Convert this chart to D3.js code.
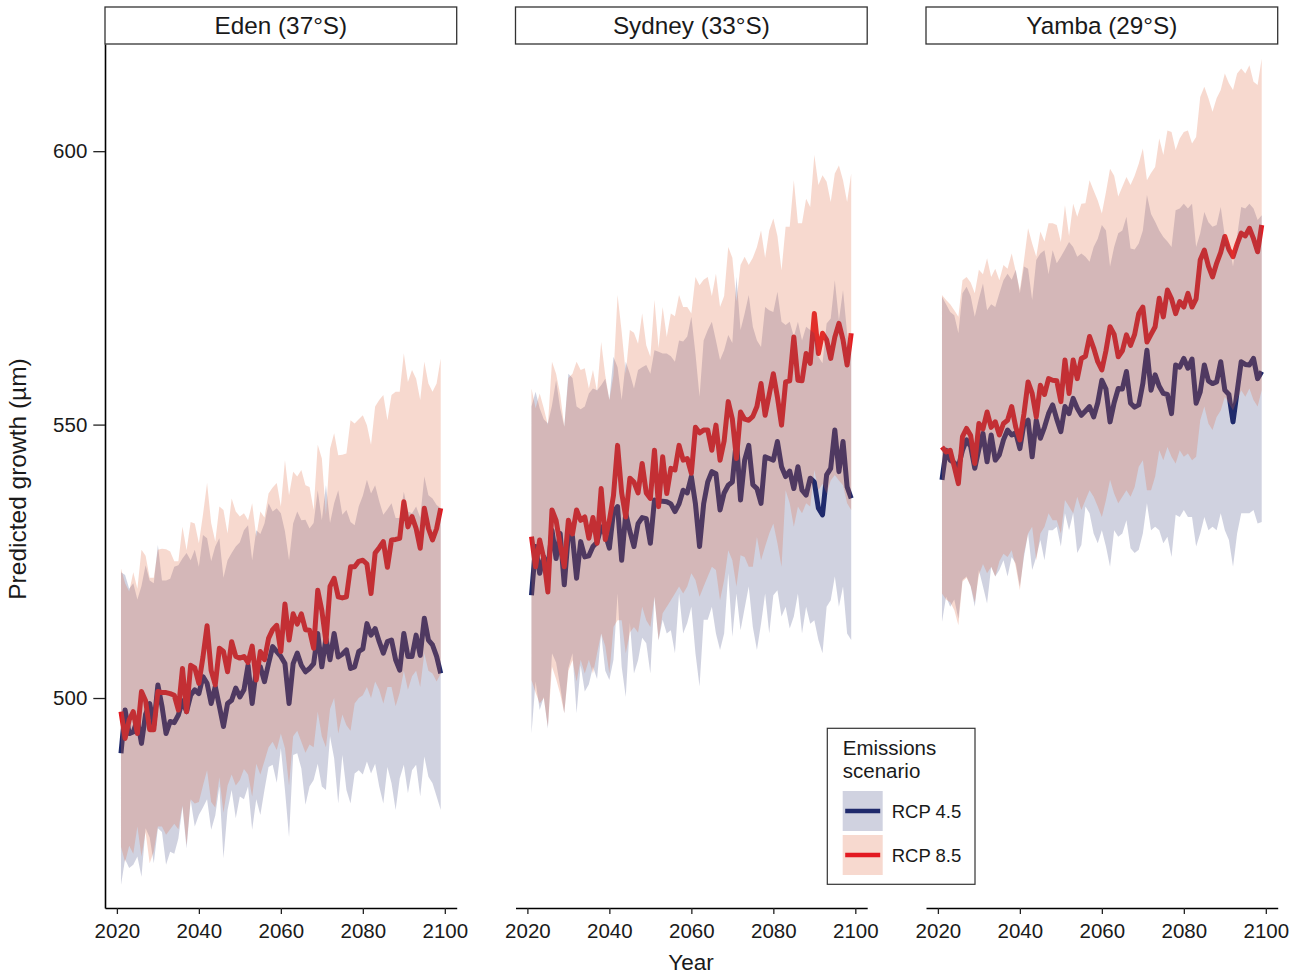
<!DOCTYPE html>
<html>
<head>
<meta charset="utf-8">
<script src="https://cdn.jsdelivr.net/npm/d3@7"></script>
<style>
    body { margin: 0; background: #fff; }
    svg text { font-family: "Liberation Sans", Arial, Helvetica, sans-serif; fill: #1a1a1a; }
</style>
</head>
<body>
<svg id="chart" width="1301" height="974"></svg>
<script>
const years = d3.range(2021, 2100);
const panels = ["Eden (37°S)", "Sydney (33°S)", "Yamba (29°S)"];
const scenarios = ["RCP 4.5", "RCP 8.5"];
const xTicks = [2020, 2040, 2060, 2080, 2100];
const yTicks = [500, 550, 600];

/* Eden */
const edenMid45 = [489.9, 497.8, 493.5, 493.8, 496, 491.7, 497, 499, 495, 502.4,
    498.5, 493.5, 495.7, 495.5, 496.9, 499.5, 497.5, 500.5, 501.5, 500.8,
    503.9, 502.7, 499, 502.1, 498.5, 494.8, 499, 499.6, 501.8, 500.2,
    501.5, 506, 499, 505.1, 505.7, 503, 506.3, 509.4, 508.5, 507.6,
    506.3, 499, 506.3, 508.2, 506, 504.8, 505.4, 506.3, 511.8, 505.7,
    510.9, 507, 511.8, 507.5, 508, 508.8, 505.4, 505.7, 508.5, 509,
    513.6, 511.5, 512.7, 510.3, 508.2, 510.3, 510.6, 507, 505.1, 511.8,
    507.6, 507.6, 511.5, 507.8, 514.6, 510.6, 509.7, 507.6, 504.5];
const edenLow45 = [465.8, 470.5, 468.9, 469.5, 471, 467.3, 476.2, 474.5, 469.8, 476.2,
    475.5, 469.5, 471.9, 471.5, 474.3, 480.1, 472.5, 481.3, 476.5, 478.6,
    480, 481.5, 475.9, 478.5, 483.8, 470.7, 479.5, 483.2, 478, 482,
    481.5, 483.8, 475.9, 481.5, 478.6, 483.2, 487.4, 487.8, 484.5, 490.8,
    483.2, 474.6, 489.6, 489.9, 487.1, 480.5, 483.8, 485, 488, 483.8,
    483.2, 493, 489, 480.7, 489.6, 483.2, 480.7, 486.2, 486.8, 486,
    488.4, 486.2, 488, 483.8, 480.7, 487.4, 484.4, 479.5, 485.3, 487.8,
    482.6, 486.8, 487.8, 482, 489.3, 485.6, 484.4, 482, 479.5];
const edenHigh45 = [523, 522.5, 520, 521, 518, 520.5, 524.3, 521.5, 521, 528,
    521.5, 521.5, 521.8, 524, 524.3, 525.5, 526.5, 525.2, 527.1, 524,
    529.8, 529.2, 525, 527.7, 529.2, 522, 525.2, 526.5, 527.7, 528.5,
    530.7, 531.6, 525.2, 530.7, 530, 531.9, 535.6, 534.1, 534.7, 533.8,
    530.5, 525.2, 531.9, 534.1, 532.5, 532.6, 531, 532, 538, 532.5,
    538.9, 532, 535.6, 538, 533.5, 534.4, 532.2, 531.6, 535, 537,
    539.9, 537.4, 538.9, 536, 533.5, 534.5, 535.6, 532.9, 532.9, 537.7,
    534.1, 533.8, 535, 533, 540.5, 537.1, 536.5, 535.3, 534.7];
const edenMid85 = [497.5, 492.6, 496, 497.5, 493.5, 501.2, 499.5, 494.2, 494.2, 501.2,
    501, 501, 500.8, 500.5, 497.8, 505.4, 497.5, 506, 505.5, 502.7,
    507.5, 513.2, 505, 502.4, 509.1, 508.5, 504.8, 510.3, 507.6, 507.3,
    507.6, 506.5, 509.5, 503.3, 508.5, 507, 510.9, 512.5, 513.3, 508.5,
    517.2, 510.6, 515.4, 513.5, 515.4, 512.5, 512.4, 509.1, 519.7, 516,
    510.3, 520.4, 521.9, 518.5, 518.3, 518.5, 524, 524, 525, 525.2,
    524.5, 519.1, 526.5, 527.5, 528.6, 523.9, 528.9, 529, 529.2, 535.9,
    531.3, 533.2, 531, 527.4, 534.7, 531, 528.9, 531, 534.7];
const edenLow85 = [472.8, 470, 473, 471.5, 476.5, 471, 475.5, 469.8, 472, 476.5,
    476.5, 475, 476, 477, 476, 480.4, 473.1, 481.5, 480.7, 481,
    484, 486.8, 481, 480, 485.5, 479, 484, 486, 484, 485,
    487, 486, 482, 488, 486, 488.5, 491, 492, 490.5, 493.5,
    490.8, 484, 493, 494, 492, 490, 491.5, 491, 497.5, 493,
    491, 498, 500, 493.5, 497, 495, 494, 499, 500, 500.5,
    502, 500, 503, 501.5, 499, 502, 502, 498.5, 501, 505,
    501.5, 504, 505, 502, 508.2, 505, 504.5, 503, 504.5];
const edenHigh85 = [523.7, 521, 519.5, 523, 520, 527.1, 526, 522, 522, 527.1,
    527.3, 527.2, 526.8, 525, 525, 531.3, 527, 532.2, 531.9, 528.3,
    533.5, 539.3, 532, 528.6, 535, 534.4, 530.1, 536.5, 534.1, 533.2,
    533.8, 532.5, 535.6, 529.5, 534.1, 533, 537.4, 538.5, 539.3, 535,
    543.5, 537.1, 541.4, 540.5, 541.7, 538.9, 538.6, 534.4, 546.3, 543.8,
    533.5, 545.6, 548.4, 544.4, 544.5, 544.7, 550.8, 550.2, 551, 551.7,
    549.9, 546.3, 553.3, 554.5, 555.4, 550.8, 555.4, 556, 556, 563,
    557.8, 560, 558.4, 554.5, 561.5, 557.5, 556, 557.5, 562.1];

/* Sydney */
const sydneyMid45 = [518.8, 527.7, 522.8, 525.8, 523.5, 530.7, 525.5, 530.1, 520.7, 530,
    529.5, 521.9, 528.6, 525.8, 526, 527.7, 528.5, 531.3, 530, 527.4,
    534, 535, 525.2, 533.8, 530.5, 527.7, 531.9, 533, 532.8, 528.3,
    536.2, 536, 536, 535.9, 535.5, 534.1, 535.5, 538, 537.5, 540.5,
    535.5, 527.7, 535.5, 539.5, 541.4, 541, 534.4, 537.5, 538.9, 539.5,
    547.2, 536.2, 543.5, 546.2, 539, 538.3, 535.6, 544.1, 543.8, 543.5,
    546.9, 542.3, 540.5, 541.5, 538.3, 542.3, 538, 537.1, 540.2, 539.5,
    534.7, 533.5, 540.8, 542, 549, 541.4, 546.9, 538.6, 536.5];
const sydneyLow45 = [493.5, 503, 497.8, 500.2, 494.4, 508.2, 506.5, 502.1, 497.2, 505.5,
    508.2, 497.2, 506, 501.2, 502.5, 505.7, 503.5, 511.8, 505, 503.3,
    507, 519.1, 505.7, 500.2, 513.7, 504.5, 506.9, 511, 510, 504.5,
    518.5, 510.5, 514.3, 511.8, 512.4, 508.2, 519.1, 511.8, 513.7, 516.7,
    508.2, 502.1, 514.3, 514.3, 516.7, 511.8, 508.8, 511.8, 522.8, 511.2,
    519.1, 512.4, 516.4, 520.4, 513, 508.8, 513.6, 519.1, 511.8, 518.8,
    519.7, 514.9, 516.7, 512.7, 514.9, 519.1, 511.8, 516.7, 513.6, 514.2,
    510.6, 508.2, 516.7, 517.9, 522.2, 516.7, 520.4, 511.8, 510.6];
const sydneyHigh45 = [553.3, 556, 553, 551, 550.2, 553.5, 558.1, 553, 549.6, 559.3,
    558.5, 553.3, 552.8, 553.3, 555.7, 556.6, 556.3, 557.2, 558.4, 554.5,
    562.4, 560.5, 554.5, 561.5, 559.3, 556.6, 560, 560.5, 560.9, 559.3,
    563.6, 563.3, 563, 563, 562.5, 561.5, 565.4, 565.2, 566.1, 569.7,
    563, 555.1, 565.4, 567.3, 568.8, 565.4, 561.8, 563.6, 566.4, 564.9,
    577, 567.3, 570.3, 573.7, 567.9, 565.4, 564.2, 571.5, 570.9, 570.6,
    574.3, 568.8, 568.2, 568.8, 566.1, 568.8, 565.4, 567.9, 567.3, 566.7,
    562.4, 561.2, 568.5, 569.4, 576.4, 569.1, 574.6, 566.7, 563];
const sydneyMid85 = [529.5, 524, 528.9, 525.5, 519.4, 534.4, 532.5, 528, 524, 532.5,
    530, 534.4, 532.5, 533.1, 529.2, 533, 528.3, 538.3, 529, 532.5,
    537, 546.2, 537.5, 533.1, 540.2, 539.5, 537.5, 542.9, 537.5, 536.5,
    545.3, 535, 544.1, 537.4, 542, 541.7, 546.2, 543.5, 543.8, 541.1,
    549.5, 548.5, 549, 549, 545.3, 549.9, 543.5, 547, 554.2, 551,
    543.8, 552.3, 551, 550.8, 551.5, 553.3, 557.5, 551.7, 555.5, 559.3,
    555, 549.9, 557.8, 558, 566, 558.1, 558, 563, 561.2, 570.3,
    563, 566.7, 565.5, 562.1, 566, 568.5, 565.5, 560.9, 566.7];
const sydneyLow85 = [503.3, 501, 499, 500, 494.8, 505.7, 503.5, 500.8, 497.2, 505,
    506.9, 503, 507, 504.5, 507, 504.5, 508.2, 511.8, 509.5, 504.5,
    513, 514.2, 514.2, 508.2, 512, 513, 512, 516.7, 514.2, 513,
    518.5, 510.6, 515.5, 516.7, 517.9, 519.1, 520.4, 519.1, 520.4, 522.8,
    521.6, 518.5, 520.4, 522.2, 524, 523.4, 517.9, 521.6, 527, 525.2,
    520.4, 526.1, 525.8, 524, 524, 529.5, 525.2, 527.7, 530.1, 531.9,
    528.3, 524, 538, 535.6, 531.3, 535, 533.8, 535.6, 535, 541.7,
    538, 539.2, 537.4, 539.8, 540.8, 539.8, 538.9, 535.6, 534.4];
const sydneyHigh85 = [556.6, 553, 555.7, 553, 549.9, 561.5, 559.3, 555.5, 549.6, 558.5,
    559.3, 561.5, 560, 560.3, 556.6, 560, 556, 565.1, 559, 554.5,
    559, 573.7, 567, 559.3, 567.3, 566.8, 564.8, 570.3, 564.5, 562.4,
    572.8, 564, 571.5, 566, 570.3, 569.8, 573.7, 571.5, 571.5, 570.3,
    577, 575.5, 576.5, 577, 573.5, 577.6, 571.5, 573.5, 582.5, 580.5,
    572.5, 579.2, 580.7, 579.2, 580.5, 582.5, 585.5, 580.5, 585.5, 587.7,
    584.5, 578.2, 586.2, 586.2, 594.7, 586.8, 586.8, 591.3, 589.8, 599.3,
    593.8, 595.6, 594.4, 590.7, 595.9, 597.4, 594.7, 590.7, 595.9];

/* Yamba */
const yambaMid45 = [539.9, 545.3, 543.5, 543, 542.3, 545.3, 547.2, 546, 542, 545.5,
    548.4, 543.2, 548.1, 543.5, 544.5, 547.2, 549, 548.1, 548.5, 545.6,
    550.2, 550.8, 544.1, 550.8, 547.5, 549.5, 552, 553.6, 551, 548.7,
    553.3, 552, 554.8, 553, 551.7, 552.5, 553.3, 551.4, 554, 558.1,
    556.5, 550.5, 554, 556.6, 556.5, 559.7, 553.9, 553.2, 553.6, 557.5,
    563.6, 556.3, 559.1, 557, 555.7, 555.5, 552, 560.9, 560.5, 562.1,
    560.3, 562, 553.9, 556, 560.9, 558, 557.5, 557.8, 561.5, 556.3,
    555.5, 550.5, 556, 561.5, 561, 560.9, 562.1, 558.4, 559.7];
const yambaLow45 = [513.9, 518.5, 516.7, 518, 514.5, 521.6, 522.2, 520.4, 516.7, 523.4,
    520.4, 517.3, 524, 522.2, 523.4, 525.2, 522.2, 525.8, 524.6, 520.4,
    525.8, 530.1, 523.4, 525.8, 528.9, 525.2, 530.7, 530.7, 531.3, 527.7,
    533.8, 530.7, 533.8, 526.5, 528, 535, 533.8, 530.1, 528.3, 530.7,
    527.7, 524, 530.7, 529.5, 530.1, 532.5, 527.4, 526.5, 527.1, 530.1,
    535.6, 530.7, 531.3, 530.7, 528.3, 529.5, 525.8, 533.5, 533.1, 534.4,
    533.1, 533.1, 527.7, 530.1, 533.1, 530.7, 531.3, 530.7, 533.8, 530.7,
    528.9, 524, 530.1, 533.8, 533.8, 533.8, 534.4, 531.9, 532.2];
const yambaHigh45 = [573.4, 572, 570.6, 570, 566.7, 574, 575.2, 573.5, 569.7, 573,
    575.8, 570.9, 572, 571.5, 574, 576.4, 577.6, 576.5, 578.3, 574,
    578.9, 578.5, 572.8, 580.1, 581.3, 581.9, 577.5, 581.9, 579.5, 580.7,
    582, 583.4, 582.5, 580.7, 581.3, 580.7, 579.8, 582.5, 584, 586.5,
    585.5, 578.9, 582.5, 585, 585.5, 588, 582.2, 582, 583.1, 585.5,
    592, 588.5, 587.1, 585.5, 584.3, 583.5, 582.5, 589.2, 589.5, 590.4,
    589.5, 590.4, 582.5, 585, 588.9, 587, 586.2, 586.5, 589.8, 584.5,
    583, 578.9, 584.5, 589.8, 589.5, 590.4, 589.5, 587.4, 588.3];
const yambaMid85 = [545.9, 545, 545.3, 542.3, 539.2, 547.8, 549.3, 548, 542.9, 550.2,
    549.2, 552.3, 549.5, 550.5, 548.1, 550.2, 550.8, 553.3, 549.5, 547.2,
    552, 557.8, 555.7, 551.4, 557.2, 555.5, 558.4, 558.1, 558, 554.2,
    561.8, 555.7, 561.8, 558.4, 562.1, 562.5, 566.1, 564, 561.5, 560,
    563.5, 567.9, 566.5, 562.4, 563.5, 566.4, 564.5, 566.5, 570.3, 571.5,
    565.1, 566.5, 567.9, 573.1, 569.7, 574.6, 573, 570.3, 572.5, 571.5,
    574, 571.5, 573, 580.1, 581.9, 579, 577, 579.5, 581.5, 584.4,
    582, 580.7, 583, 585, 584.5, 585.9, 584, 581.6, 586.5];
const yambaLow85 = [519.1, 518, 517.5, 516.1, 513.3, 521.3, 522, 520.5, 517.5, 522.5,
    524.5, 522.8, 524, 522.2, 525, 526.4, 525.8, 527, 524, 519.7,
    526.4, 530.1, 531.3, 525.2, 530.1, 531.3, 533.8, 532.5, 532.5, 530.1,
    536.2, 535, 533.8, 536.8, 534.4, 536.2, 538, 536.8, 535, 533.1,
    536.2, 539.9, 537.4, 535.6, 536.8, 538, 536.8, 538.6, 542.3, 543.5,
    538, 538, 540.5, 545.3, 543.5, 545.9, 544.1, 542.9, 545.3, 544.1,
    544.7, 543.5, 544.1, 550.8, 553.3, 550.2, 549, 551.4, 552.6, 555.1,
    553.9, 552.6, 554.5, 556.3, 555.1, 556.6, 554.5, 553.3, 556.3];
const yambaHigh85 = [573.7, 572.8, 572, 570.9, 569.7, 576.4, 577, 576, 574, 578.3,
    577.5, 580.4, 577, 578.5, 576.4, 579.2, 578.5, 581.3, 578, 574.6,
    580, 585.9, 583.1, 580.7, 585.3, 583.5, 586.8, 586.8, 586.5, 583.4,
    590.1, 584.5, 590.4, 588, 590.4, 590.5, 594.7, 592.8, 591, 588.6,
    592.5, 596.8, 595.5, 591.7, 593.5, 595.3, 593.8, 595.5, 597.7, 600.5,
    594.7, 596, 597.1, 602.3, 599.3, 603.8, 603.5, 600.2, 602.3, 603.5,
    603.8, 601.4, 602.6, 609.9, 611.8, 609.7, 607.2, 609.7, 611.2, 614.2,
    612.4, 611.2, 614.2, 615.1, 614.2, 615.7, 612.7, 612.1, 616.9];

const series = {
    "Eden (37°S)": { "RCP 4.5": [edenMid45, edenLow45, edenHigh45], "RCP 8.5": [edenMid85, edenLow85, edenHigh85] },
    "Sydney (33°S)": { "RCP 4.5": [sydneyMid45, sydneyLow45, sydneyHigh45], "RCP 8.5": [sydneyMid85, sydneyLow85, sydneyHigh85] },
    "Yamba (29°S)": { "RCP 4.5": [yambaMid45, yambaLow45, yambaHigh45], "RCP 8.5": [yambaMid85, yambaLow85, yambaHigh85] }
};

const lineColor = { "RCP 4.5": "#1f2a6c", "RCP 8.5": "#e31a22" };
const bandColor = { "RCP 4.5": "#1f2c6e", "RCP 8.5": "#df673f" };
const bandOpacity = { "RCP 4.5": 0.21, "RCP 8.5": 0.25 };

const svg = d3.select("#chart");
const panelLeft = [105, 515.5, 926];
const panelWidth = 351.7;
const plotTop = 44, plotBottom = 908;

const x = d3.scaleLinear().domain([2017.1, 2102.9]).range([0, panelWidth]);
const y = d3.scaleLinear().domain([461.6, 619.6]).range([plotBottom, plotTop]);

const rows = (name, sc) => years.map((yr, i) => ({
    year: yr,
    mid: series[name][sc][0][i],
    lo: series[name][sc][1][i],
    hi: series[name][sc][2][i]
}));

const line = d3.line().x(d => x(d.year)).y(d => y(d.mid));
const area = d3.area().x(d => x(d.year)).y0(d => y(d.lo)).y1(d => y(d.hi));

panels.forEach((name, p) => {
    const g = svg.append("g").attr("transform", `translate(${panelLeft[p]},0)`);

    // lines sit under the bands, as in the original
    scenarios.forEach(sc => {
        g.append("path")
            .datum(rows(name, sc))
            .attr("d", line)
            .attr("fill", "none")
            .attr("stroke", lineColor[sc])
            .attr("stroke-width", 5)
            .attr("stroke-linejoin", "round")
            .attr("stroke-linecap", "butt");
    });
    scenarios.forEach(sc => {
        g.append("path")
            .datum(rows(name, sc))
            .attr("d", area)
            .attr("fill", bandColor[sc])
            .attr("fill-opacity", bandOpacity[sc]);
    });

    /* strip */
    g.append("rect")
        .attr("x", 0).attr("y", 7)
        .attr("width", panelWidth).attr("height", 37)
        .attr("fill", "#fff")
        .attr("stroke", "#333").attr("stroke-width", 1.3);
    g.append("text")
        .attr("x", panelWidth / 2).attr("y", 33.5)
        .attr("text-anchor", "middle")
        .style("font-size", "24.3px")
        .text(name);

    /* x axis */
    const xAxis = g.append("g")
        .attr("transform", `translate(0,${plotBottom})`)
        .call(d3.axisBottom(x).tickValues(xTicks).tickFormat(d3.format("d")).tickSize(6).tickSizeOuter(0).tickPadding(9.5));
    xAxis.select(".domain").attr("stroke", "#000").attr("stroke-width", 1.6);
    xAxis.selectAll(".tick line").attr("stroke", "#222").attr("stroke-width", 1.3);
    xAxis.selectAll("text").style("font-size", "20.5px").attr("fill", "#1a1a1a");

    if (p === 0) {
        const yAxis = g.append("g")
            .call(d3.axisLeft(y).tickValues(yTicks).tickSize(11.7).tickSizeOuter(0).tickPadding(6));
        yAxis.select(".domain").attr("stroke", "#000").attr("stroke-width", 1.6);
        yAxis.selectAll(".tick line").attr("stroke", "#222").attr("stroke-width", 1.3);
        yAxis.selectAll("text").style("font-size", "20.5px").attr("fill", "#1a1a1a");
    }
});

/* axis titles */
svg.append("text")
    .attr("x", 691).attr("y", 970)
    .attr("text-anchor", "middle")
    .style("font-size", "22.5px")
    .text("Year");
svg.append("text")
    .attr("transform", "translate(26,479) rotate(-90)")
    .attr("text-anchor", "middle")
    .style("font-size", "24.5px")
    .text("Predicted growth (µm)");

/* legend */
const legend = svg.append("g").attr("transform", "translate(827.3,728.3)");
legend.append("rect")
    .attr("width", 147.7).attr("height", 156)
    .attr("fill", "#fff")
    .attr("stroke", "#333").attr("stroke-width", 1.2);
legend.append("text").attr("x", 15.5).attr("y", 26.7).style("font-size", "20.5px").text("Emissions");
legend.append("text").attr("x", 15.5).attr("y", 49.5).style("font-size", "20.5px").text("scenario");

scenarios.forEach((sc, i) => {
    const k = legend.append("g").attr("transform", `translate(15.4,${62.7 + i * 44})`);
    k.append("rect").attr("width", 40).attr("height", 40).attr("fill", "#fff");
    k.append("rect").attr("width", 40).attr("height", 40)
        .attr("fill", bandColor[sc]).attr("fill-opacity", bandOpacity[sc]);
    k.append("line")
        .attr("x1", 2.5).attr("x2", 37.5).attr("y1", 20).attr("y2", 20)
        .attr("stroke", lineColor[sc]).attr("stroke-width", 4.5);
    k.append("text")
        .attr("x", 49).attr("y", 26.5)
        .style("font-size", "18.5px")
        .text(sc);
});
</script>
</body>
</html>
